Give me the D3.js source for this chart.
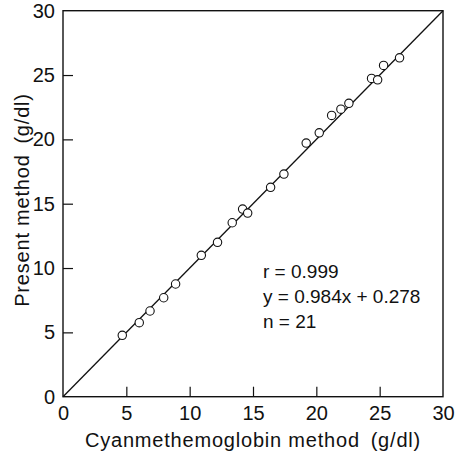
<!DOCTYPE html>
<html><head><meta charset="utf-8">
<script src="https://cdn.jsdelivr.net/npm/d3@7"></script>
<style>body{margin:0;background:#fff;} svg{display:block;}</style>
</head><body>
<svg id="c" width="455" height="453"></svg>
<script>
const xValues = [4.68, 6.02, 6.87, 7.95, 8.89, 10.92, 12.2, 13.36, 14.18, 14.58, 16.39, 17.44, 19.2, 20.23, 21.21, 21.94, 22.57, 24.36, 24.84, 25.31, 26.57];
const yValues = [4.77, 5.75, 6.66, 7.69, 8.76, 10.99, 12.0, 13.52, 14.58, 14.27, 16.27, 17.3, 19.71, 20.51, 21.86, 22.35, 22.8, 24.74, 24.63, 25.75, 26.34];
const tickValues = [0, 5, 10, 15, 20, 25, 30];
const statLines = ["r = 0.999", "y = 0.984x + 0.278", "n = 21"];
const xTitle = "Cyanmethemoglobin method\u2002(g/dl)";
const yTitle = "Present method\u2002(g/dl)";

const svg = d3.select("#c");
const L = 63, R = 443, T = 10.7, B = 396.7;
const x = d3.scaleLinear().domain([0, 30]).range([L, R]);
const y = d3.scaleLinear().domain([0, 30]).range([B, T]);
const font = "'Liberation Sans', Arial, sans-serif";
const ink = "#111";

// frame
svg.append("rect").attr("x", L).attr("y", T).attr("width", R - L).attr("height", B - T)
  .attr("fill", "none").attr("stroke", ink).attr("stroke-width", 1.4);

// axes with inward ticks
const xAxis = d3.axisBottom(x).tickValues(tickValues).tickSize(-10).tickSizeOuter(0);
const gx = svg.append("g").attr("transform", `translate(0,${B})`).call(xAxis);
const yAxis = d3.axisLeft(y).tickValues(tickValues).tickSize(-10).tickSizeOuter(0);
const gy = svg.append("g").attr("transform", `translate(${L},0)`).call(yAxis);
[gx, gy].forEach(g => {
  g.select(".domain").remove();
  g.selectAll("line").attr("stroke", ink).attr("stroke-width", 1.2);
  g.selectAll("text").attr("font-family", font).attr("font-size", 20).attr("fill", ink);
});
gx.selectAll(".tick").filter(d => d === 0 || d === 30).select("line").remove();
gy.selectAll(".tick").filter(d => d === 0 || d === 30).select("line").remove();
gy.selectAll("text").attr("x", -8);
gx.selectAll("text").attr("y", 9);

// identity line
svg.append("line").attr("x1", x(0)).attr("y1", y(0)).attr("x2", x(30)).attr("y2", y(30))
  .attr("stroke", ink).attr("stroke-width", 1.3);

// points
svg.append("g").selectAll("circle").data(xValues.map((v, i) => [v, yValues[i]])).join("circle")
  .attr("cx", d => x(d[0])).attr("cy", d => y(d[1])).attr("r", 4.2)
  .attr("fill", "#fff").attr("stroke", ink).attr("stroke-width", 1.1);

// stats
svg.append("g").selectAll("text").data(statLines).join("text")
  .attr("x", 263).attr("y", (d, i) => 278 + i * 25)
  .attr("font-family", font).attr("font-size", 19).attr("fill", ink).text(d => d);

// titles
svg.append("text").attr("x", 253).attr("y", 447).attr("text-anchor", "middle")
  .attr("font-family", font).attr("font-size", 20).attr("letter-spacing", 0.8).attr("fill", ink).text(xTitle);
svg.append("text").attr("transform", "translate(29,200) rotate(-90)").attr("text-anchor", "middle")
  .attr("font-family", font).attr("font-size", 20).attr("letter-spacing", 0.8).attr("fill", ink).text(yTitle);
</script>
</body></html>
